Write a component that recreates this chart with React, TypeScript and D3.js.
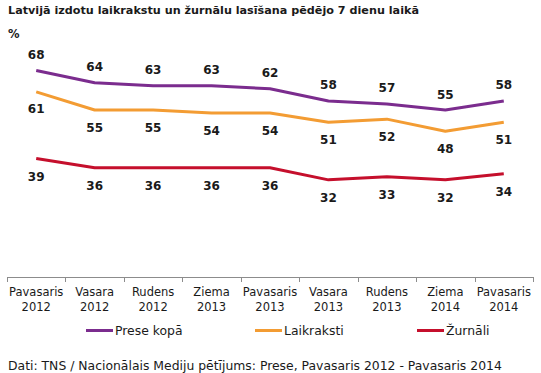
import React from 'react';
import * as d3 from 'd3';

const categories = [
  ['Pavasaris', '2012'], ['Vasara', '2012'], ['Rudens', '2012'],
  ['Ziema', '2013'], ['Pavasaris', '2013'], ['Vasara', '2013'],
  ['Rudens', '2013'], ['Ziema', '2014'], ['Pavasaris', '2014'],
];
const preseKopa = [68, 64, 63, 63, 62, 58, 57, 55, 58];
const laikraksti = [61, 55, 55, 54, 54, 51, 52, 48, 51];
const zurnali = [39, 36, 36, 36, 36, 32, 33, 32, 34];

const series = [
  { name: 'Prese kopā', values: preseKopa, color: '#7B2C8E', dy: -11.5, legendX: 86 },
  { name: 'Laikraksti', values: laikraksti, color: '#F39C33', dy: 21.5, legendX: 255 },
  { name: 'Žurnāli', values: zurnali, color: '#C50F2C', dy: 22, legendX: 417 },
];

const W = 541;
const H = 373;
const font = 'Verdana, "DejaVu Sans", sans-serif';

export default function App() {
  const x = d3.scaleBand<number>()
    .domain(d3.range(categories.length))
    .range([7, 533]);
  const y = d3.scaleLinear().domain([0, 70]).range([277, 64.5]);
  const cx = (i: number) => (x(i) as number) + x.bandwidth() / 2;

  const line = d3.line<number>()
    .x((_, i) => cx(i))
    .y(d => y(d));

  const ticks = d3.range(categories.length + 1).map(i =>
    i < categories.length ? (x(i) as number) : 533);

  return (
    <svg width={W} height={H} style={{ position: 'absolute', left: 0, top: 0, background: '#fff' }}
      fontFamily={font}>
      <text x={8} y={13.5} fontSize={11.2} fontWeight="bold" fill="#1a1a1a">
        Latvijā izdotu laikrakstu un žurnālu lasīšana pēdējo 7 dienu laikā
      </text>
      <text x={8} y={38} fontSize={11.5} fontWeight="bold" fill="#1a1a1a">%</text>

      {/* axis */}
      <line x1={7} x2={533} y1={277.5} y2={277.5} stroke="#8c8c8c" strokeWidth={1} />
      {ticks.map((t, i) => (
        <line key={i} x1={Math.round(t) + 0.5} x2={Math.round(t) + 0.5} y1={277} y2={282}
          stroke="#8c8c8c" strokeWidth={1} />
      ))}
      {categories.map((c, i) => (
        <text key={i} x={cx(i)} textAnchor="middle" fontSize={11.5} fill="#1a1a1a">
          <tspan x={cx(i)} y={295.5}>{c[0]}</tspan>
          <tspan x={cx(i)} y={310.5}>{c[1]}</tspan>
        </text>
      ))}

      {series.map(s => (
        <g key={s.name}>
          <path d={line(s.values) || ''} fill="none" stroke={s.color} strokeWidth={3}
            strokeLinejoin="round" />
          {s.values.map((v, i) => (
            <text key={i} x={cx(i)} y={y(v) + s.dy} textAnchor="middle" fontSize={12}
              fontWeight="bold" fill="#1a1a1a">{v}</text>
          ))}
          <line x1={s.legendX} x2={s.legendX + 27} y1={330.5} y2={330.5} stroke={s.color} strokeWidth={3} />
          <text x={s.legendX + 29} y={335} fontSize={12.4} fill="#1a1a1a">{s.name}</text>
        </g>
      ))}

      <text x={8} y={369.5} fontSize={12.4} fill="#1a1a1a">
        Dati: TNS / Nacionālais Mediju pētījums: Prese, Pavasaris 2012 - Pavasaris 2014
      </text>
    </svg>
  );
}
